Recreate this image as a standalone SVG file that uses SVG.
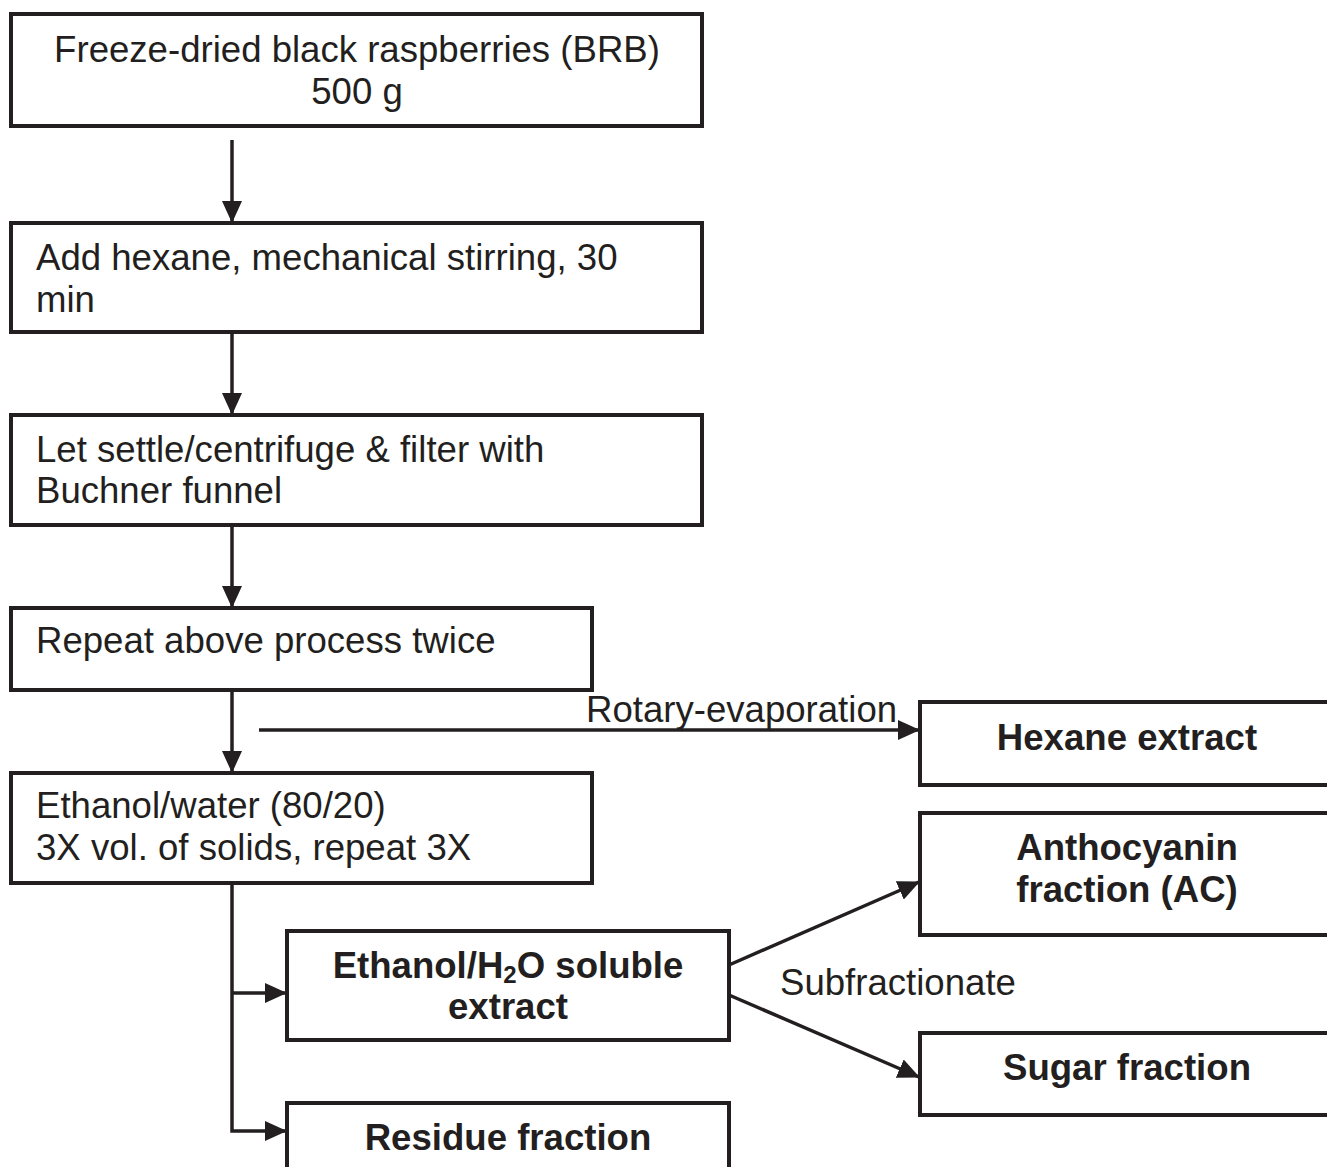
<svg xmlns="http://www.w3.org/2000/svg" width="1327" height="1167" viewBox="0 0 1327 1167">
<style>
.box{fill:#fff;stroke:#231f20;stroke-width:4}
.t{font-family:"Liberation Sans",Arial,sans-serif;font-size:36.6px;fill:#231f20}
.b{font-weight:bold;text-anchor:middle}
.c{text-anchor:middle}
.ln{stroke:#231f20;stroke-width:3.5;fill:none}
</style>
<defs>
<marker id="ah" markerUnits="userSpaceOnUse" markerWidth="24" markerHeight="20" refX="21" refY="10" orient="auto">
<path d="M0,0 L22,10 L0,20 Z" fill="#231f20"/>
</marker>
</defs>
<rect width="1327" height="1167" fill="#fff"/>
<g id="connectors">
<line class="ln" x1="232" y1="140" x2="232" y2="222" marker-end="url(#ah)"/>
<line class="ln" x1="232" y1="332" x2="232" y2="414" marker-end="url(#ah)"/>
<line class="ln" x1="232" y1="525" x2="232" y2="607" marker-end="url(#ah)"/>
<line class="ln" x1="232" y1="690" x2="232" y2="772" marker-end="url(#ah)"/>
<line class="ln" x1="259" y1="730" x2="919" y2="730" marker-end="url(#ah)"/>
<polyline class="ln" points="232,883 232,1131 286,1131" marker-end="url(#ah)"/>
<line class="ln" x1="232" y1="993" x2="286" y2="993" marker-end="url(#ah)"/>
<line class="ln" x1="729" y1="965" x2="919" y2="882" marker-end="url(#ah)"/>
<line class="ln" x1="729" y1="995" x2="919" y2="1077" marker-end="url(#ah)"/>
<text class="t" x="586" y="722">Rotary-evaporation</text>
<text class="t" x="780" y="995">Subfractionate</text>
</g>
<g id="n1"><rect class="box" x="11" y="14" width="691" height="112"/>
<text class="t c" x="357" y="62">Freeze-dried black raspberries (BRB)</text>
<text class="t c" x="357" y="104">500 g</text></g>
<g id="n2"><rect class="box" x="11" y="223" width="691" height="109"/>
<text class="t" x="36" y="270">Add hexane, mechanical stirring, 30</text>
<text class="t" x="36" y="312">min</text></g>
<g id="n3"><rect class="box" x="11" y="415" width="691" height="110"/>
<text class="t" x="36" y="462">Let settle/centrifuge &amp; filter with</text>
<text class="t" x="36" y="503">Buchner funnel</text></g>
<g id="n4"><rect class="box" x="11" y="608" width="581" height="82"/>
<text class="t" x="36" y="653">Repeat above process twice</text></g>
<g id="n5"><rect class="box" x="11" y="773" width="581" height="110"/>
<text class="t" x="36" y="818">Ethanol/water (80/20)</text>
<text class="t" x="36" y="860">3X vol. of solids, repeat 3X</text></g>
<g id="n6"><rect class="box" x="920" y="702" width="420" height="83"/>
<text class="t b" x="1127" y="750">Hexane extract</text></g>
<g id="n7"><rect class="box" x="920" y="813" width="420" height="122"/>
<text class="t b" x="1127" y="860">Anthocyanin</text>
<text class="t b" x="1127" y="902">fraction (AC)</text></g>
<g id="n8"><rect class="box" x="287" y="931" width="442" height="109"/>
<text class="t b" x="508" y="978">Ethanol/H<tspan font-size="24" dy="5">2</tspan><tspan dy="-5">O soluble</tspan></text>
<text class="t b" x="508" y="1019">extract</text></g>
<g id="n9"><rect class="box" x="920" y="1033" width="420" height="82"/>
<text class="t b" x="1127" y="1080">Sugar fraction</text></g>
<g id="n10"><rect class="box" x="287" y="1103" width="442" height="80"/>
<text class="t b" x="508" y="1150">Residue fraction</text></g>
</svg>
